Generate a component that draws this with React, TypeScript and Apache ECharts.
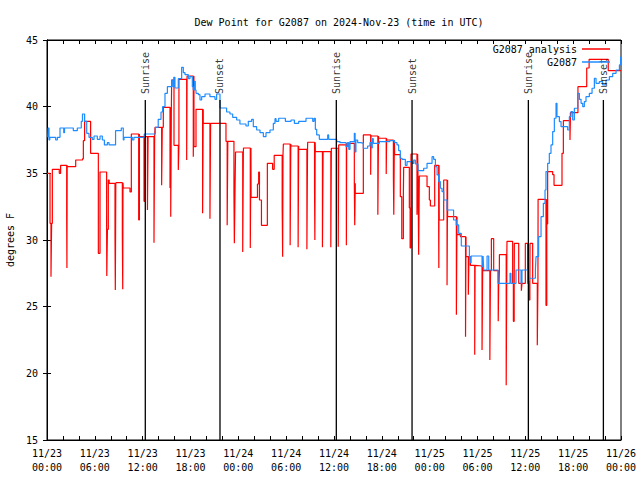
import React, { useEffect, useRef } from "react";
import * as echarts from "echarts";

// ---- data (hours since 2024-11-23 00:00 UTC, degrees F) ----
const dayLabels = ["11/23", "11/24", "11/25", "11/26"];
const hourLabels = ["00:00", "06:00", "12:00", "18:00"];

const sunEventNames = ["Sunrise", "Sunset", "Sunrise", "Sunset", "Sunrise", "Sunset"];
const sunEventHours = [12.33, 21.7, 36.29, 45.79, 60.38, 69.79];
const sunLineTop = 40.5;

// observed station dew point (step line)
const observed: number[][] = [
  [0.1, 37.7], [0.15, 38.4], [0.25, 37.5], [0.35, 37.7], [1.09, 37.5], [1.3, 37.7], [1.63, 38.4],
  [2.1, 38.05], [2.2, 38.4], [3.3, 38.2], [3.8, 38.4], [4.3, 38.9], [4.45, 39.45], [4.72, 38.9],
  [4.98, 38.0], [5.27, 37.7], [5.68, 37.55], [5.9, 37.8], [6.31, 37.55], [6.65, 37.8], [6.94, 37.5],
  [7.2, 37.13], [7.57, 37.3], [7.78, 37.13], [8.6, 38.2], [9.32, 38.4], [9.57, 37.5], [9.66, 37.7],
  [10.7, 37.5], [10.9, 37.7], [12.2, 37.95], [13.6, 38.45], [13.95, 39.05], [14.3, 39.6], [14.5, 40.0],
  [14.8, 41.0], [15.1, 41.5], [15.64, 42.0], [15.8, 41.5], [15.9, 42.2], [16.05, 41.4], [16.47, 42.1],
  [16.89, 42.95], [17.1, 42.55], [17.31, 42.4], [17.73, 42.1], [17.93, 42.25], [18.23, 41.5],
  [18.35, 41.25], [18.5, 41.9], [18.6, 41.25], [18.69, 41.0], [18.98, 40.9], [19.19, 40.5],
  [19.4, 40.75], [19.82, 40.95], [20.44, 40.75], [21.07, 40.55], [21.28, 40.95], [21.7, 39.9],
  [22.53, 39.6], [22.95, 39.45], [23.29, 39.2], [23.79, 39.0], [24.2, 38.7], [24.96, 38.55],
  [25.25, 38.9], [25.67, 39.05], [25.88, 38.5], [26.3, 38.25], [26.72, 38.05], [27.14, 37.75],
  [27.47, 38.05], [27.97, 38.25], [28.39, 38.75], [28.6, 39.1], [28.73, 38.9], [29.06, 39.13],
  [29.9, 38.9], [30.61, 39.0], [31.03, 38.75], [31.57, 38.9], [32.49, 39.13], [33.33, 38.9],
  [33.5, 39.13], [33.66, 38.3], [33.83, 37.88], [34.16, 37.55], [35.21, 37.88], [35.33, 37.55],
  [36.34, 37.38], [36.75, 37.3], [37.51, 37.0], [37.7, 37.3], [37.85, 36.8], [38.01, 37.38],
  [38.55, 38.0], [38.65, 36.6], [38.75, 37.5], [38.97, 37.3], [39.39, 37.25], [39.68, 36.88],
  [40.22, 37.05], [40.51, 37.3], [40.7, 36.9], [40.8, 37.6], [40.93, 37.25], [41.69, 37.38],
  [43.0, 37.45], [43.61, 37.3], [43.9, 37.13], [44.11, 36.7], [44.32, 36.13], [44.53, 36.05],
  [44.95, 35.6], [45.16, 35.88], [45.79, 35.75], [46.0, 36.0], [46.2, 35.7], [46.54, 35.2],
  [47.25, 35.38], [47.67, 35.75], [48.3, 36.25], [48.5, 36.05], [48.72, 35.5], [48.93, 34.88],
  [49.13, 34.38], [49.34, 33.88], [49.55, 33.63], [49.76, 33.0], [50.18, 32.25], [51.0, 31.5],
  [51.34, 31.13], [51.64, 30.5], [51.97, 29.55], [52.98, 28.75], [53.1, 28.3], [53.2, 28.8],
  [54.57, 28.0], [54.7, 28.8], [54.78, 27.75], [55.2, 28.8], [55.41, 27.75], [56.58, 26.75],
  [58.08, 27.5], [58.2, 26.75], [58.83, 27.75], [59.46, 26.75], [59.58, 27.75], [60.29, 26.75],
  [60.42, 27.13], [61.26, 27.75], [61.34, 28.75], [61.67, 30.25], [61.97, 31.75], [62.26, 32.75],
  [62.47, 33.75], [62.59, 35.13], [62.8, 35.75], [63.01, 36.5], [63.22, 37.13], [63.43, 38.13],
  [63.64, 39.13], [63.85, 40.25], [63.97, 39.25], [64.27, 38.88], [64.48, 38.5], [65.31, 38.25],
  [65.52, 39.25], [65.73, 39.63], [65.94, 39.0], [66.15, 39.88], [66.57, 41.0], [66.78, 40.55],
  [66.99, 40.25], [67.2, 40.0], [67.4, 40.38], [67.61, 40.75], [68.03, 41.0], [68.37, 41.38],
  [68.66, 42.13], [68.87, 41.75], [69.28, 41.88], [69.7, 41.63], [70.12, 42.0], [70.54, 42.25],
  [70.96, 42.5], [71.38, 42.75], [71.8, 43.13], [71.95, 43.75], [72.0, 43.5],
];

// analysis dew point: base steps
const analysisSteps: number[][] = [
  [0.0, 35.0], [0.38, 31.25], [0.67, 35.3], [1.54, 35.0], [1.71, 35.6], [2.55, 35.5], [3.6, 36.0],
  [4.47, 36.1], [4.56, 37.45], [4.72, 38.9], [5.47, 36.5], [6.44, 29.0], [6.65, 35.1], [7.48, 30.8],
  [7.69, 34.5], [7.8, 34.25], [8.66, 34.3], [9.57, 33.9], [10.41, 33.6], [10.58, 37.95], [11.6, 37.75],
  [13.55, 38.45], [14.59, 39.95], [15.64, 42.0], [15.93, 37.1], [16.55, 42.05], [17.57, 42.3],
  [18.44, 37.0], [18.69, 39.8], [19.6, 38.75], [22.45, 37.4], [23.45, 33.5], [23.65, 36.6],
  [24.65, 36.9], [25.6, 33.2], [26.4, 34.2], [26.55, 35.1], [26.65, 33.0], [26.9, 31.1],
  [27.64, 35.75], [28.3, 35.3], [28.5, 36.35], [29.65, 37.2], [30.6, 37.05], [31.57, 36.8],
  [32.7, 37.33], [33.66, 36.63], [35.67, 36.88], [36.59, 37.13], [37.59, 37.25], [38.55, 34.25],
  [38.67, 33.5], [39.68, 37.88], [40.64, 37.8], [41.6, 37.63], [42.6, 37.5], [43.61, 36.4],
  [44.32, 33.25], [44.74, 35.45], [45.45, 32.4], [45.66, 36.45], [46.54, 34.8], [47.67, 34.0],
  [47.96, 33.0], [48.09, 32.55], [48.63, 35.6], [49.2, 31.5], [49.76, 34.5], [50.25, 31.75],
  [51.43, 30.4], [51.85, 30.25], [52.56, 28.75], [53.11, 28.1], [53.7, 28.05], [54.65, 27.7],
  [55.74, 30.1], [56.03, 27.7], [56.75, 28.9], [57.7, 29.9], [58.41, 26.75], [58.62, 29.75],
  [59.17, 26.75], [60.0, 29.75], [60.29, 26.9], [60.59, 29.75], [60.92, 26.75], [61.6, 33.05],
  [62.7, 31.2], [62.8, 35.13], [63.43, 34.9], [63.6, 34.1], [64.6, 36.5], [64.77, 38.95],
  [65.65, 39.55], [66.6, 41.5], [67.7, 42.9], [68.0, 43.55], [70.4, 42.7], [72.0, 42.75],
];

// analysis dew point: short downward dips [hour, low, optional duration]
const analysisDips: number[][] = [
  [0.5, 27.25], [2.47, 31.75, 0.06], [2.5, 27.9], [7.5, 27.3], [8.53, 30.25, 0.1], [8.57, 26.25],
  [9.45, 30.4, 0.08], [9.5, 26.3], [11.5, 31.5, 0.09], [12.17, 32.9, 0.15], [12.6, 32.25],
  [13.42, 29.8], [14.38, 34.1], [15.43, 33.9], [15.52, 31.75], [16.47, 35.25], [17.52, 36.0],
  [18.35, 36.25], [19.52, 32.0, 0.15], [20.44, 31.6], [22.6, 31.1], [23.5, 29.75], [24.55, 29.1],
  [25.5, 29.4, 0.08], [29.5, 32.5, 0.1], [29.56, 28.75], [30.5, 29.6], [31.5, 29.45], [32.6, 29.3],
  [33.56, 33.75, 0.08], [33.6, 30.0], [34.55, 29.45], [35.6, 29.45], [36.53, 29.5], [37.55, 29.6],
  [38.6, 31.1], [40.6, 34.9], [41.5, 31.9], [42.55, 34.95], [43.45, 34.75, 0.12], [43.5, 31.9],
  [44.5, 30.1, 0.2], [45.55, 29.4, 0.1], [46.41, 31.9], [46.62, 28.9], [49.13, 30.75, 0.05],
  [49.15, 27.9], [50.18, 26.6], [51.35, 24.4], [52.5, 22.75], [52.85, 25.9], [53.65, 21.4],
  [54.57, 21.75], [55.55, 21.0], [56.6, 23.9], [56.7, 26.75, 0.04], [57.6, 19.1], [58.5, 23.9, 0.1],
  [59.5, 26.2], [60.45, 25.5, 0.12], [61.5, 22.1], [62.59, 25.1, 0.1], [65.6, 37.5],
];

const FONT = "DejaVu Sans Mono";

function buildAnalysis(): number[][] {
  const baseAt = (t: number) => {
    let v = analysisSteps[0][1];
    for (const s of analysisSteps) {
      if (s[0] <= t) v = s[1];
      else break;
    }
    return v;
  };
  const nextStep = (t: number) => {
    for (const s of analysisSteps) if (s[0] > t) return s[0];
    return Infinity;
  };
  const pts: number[][] = analysisSteps.map((s) => [s[0], s[1]]);
  for (const d of analysisDips) {
    const w = d[2] ?? 0.08;
    let end = Math.min(d[0] + w, nextStep(d[0]) - 0.002);
    if (end <= d[0]) end = d[0] + 0.001;
    pts.push([d[0], d[1]]);
    pts.push([end, baseAt(d[0])]);
  }
  pts.sort((a, b) => a[0] - b[0]);
  return pts;
}

function tickLabel(h: number): string {
  if (h % 6 !== 0) return "";
  const day = dayLabels[Math.floor(h / 24)] ?? "";
  const hr = hourLabels[(h % 24) / 6] ?? "";
  return `${day}\n${hr}`;
}

export default function App() {
  const ref = useRef<HTMLDivElement>(null);
  useEffect(() => {
    if (!ref.current) return;
    const chart = echarts.init(ref.current, undefined, { renderer: "svg" });
    const axisCommon = {
      type: "value" as const,
      axisLine: { show: true, lineStyle: { color: "#000", width: 1 } },
      axisTick: { show: true, inside: true, length: 4, lineStyle: { color: "#000" } },
      splitLine: { show: false },
    };
    const sunLines = sunEventHours.map((h, i) => ({
      type: "line",
      name: "sun" + i,
      data: [
        [h, 15],
        [h, sunLineTop],
      ],
      symbol: "none",
      silent: true,
      lineStyle: { color: "#000", width: 1.3 },
      z: 5,
    }));
    const sunLabels = {
      type: "scatter",
      name: "sunLabels",
      symbolSize: 0,
      silent: true,
      z: 6,
      data: sunEventHours.map((h, i) => ({ value: [h, sunLineTop], name: sunEventNames[i] })),
      label: {
        show: true,
        formatter: (p: any) => p.name,
        position: "top",
        distance: 6,
        rotate: 90,
        align: "left",
        verticalAlign: "middle",
        color: "#000",
        fontFamily: FONT,
        fontSize: 10,
      },
      labelLayout: { hideOverlap: false },
    };
    chart.setOption({
      animation: false,
      backgroundColor: "#fff",
      textStyle: { fontFamily: FONT },
      title: {
        text: "Dew Point for G2087 on 2024-Nov-23 (time in UTC)",
        left: 334,
        textAlign: "center",
        top: 12,
        textStyle: { fontFamily: FONT, fontSize: 10, fontWeight: "normal", color: "#000" },
      },
      legend: {
        data: ["G2087 analysis", "G2087"],
        orient: "vertical",
        right: 30,
        top: 43,
        padding: 0,
        align: "right",
        icon: "rect",
        itemWidth: 28,
        itemHeight: 1.5,
        itemGap: 1,
        z: 10,
        textStyle: { fontFamily: FONT, fontSize: 10, color: "#000", lineHeight: 12 },
      },
      grid: {
        left: 47,
        top: 40,
        width: 574,
        height: 400,
        show: true,
        borderColor: "#000",
        borderWidth: 1,
        containLabel: false,
        outerBoundsMode: "none",
      },
      xAxis: [
        {
          ...axisCommon,
          min: 0,
          max: 72,
          interval: 2,
          position: "bottom",
          axisLabel: {
            formatter: tickLabel,
            color: "#000",
            fontFamily: FONT,
            fontSize: 10,
            lineHeight: 14,
            margin: 6,
            showMinLabel: true,
            showMaxLabel: true,
            hideOverlap: false,
          },
        },
        {
          ...axisCommon,
          min: 0,
          max: 72,
          interval: 2,
          position: "top",
          axisLabel: { show: false },
        },
      ],
      yAxis: [
        {
          ...axisCommon,
          min: 15,
          max: 45,
          interval: 5,
          position: "left",
          name: "degrees F",
          nameLocation: "middle",
          nameGap: 32,
          nameTextStyle: { fontFamily: FONT, fontSize: 10, color: "#000" },
          axisLabel: { color: "#000", fontFamily: FONT, fontSize: 10, margin: 9 },
        },
        {
          ...axisCommon,
          min: 15,
          max: 45,
          interval: 5,
          position: "right",
          axisLabel: { show: false },
        },
      ],
      series: [
        {
          type: "line",
          name: "G2087 analysis",
          data: buildAnalysis(),
          step: "end",
          symbol: "none",
          color: "#ff0000",
          lineStyle: { color: "#ff0000", width: 1.2 },
          z: 2,
        },
        {
          type: "line",
          name: "G2087",
          data: observed,
          step: "end",
          symbol: "none",
          color: "#1e8cff",
          lineStyle: { color: "#1e8cff", width: 1.2 },
          z: 3,
        },
        ...sunLines,
        sunLabels,
      ],
    });
    return () => chart.dispose();
  }, []);
  return (
    <div
      ref={ref}
      style={{ position: "fixed", left: 0, top: 0, width: 640, height: 480, background: "#fff" }}
    />
  );
}
